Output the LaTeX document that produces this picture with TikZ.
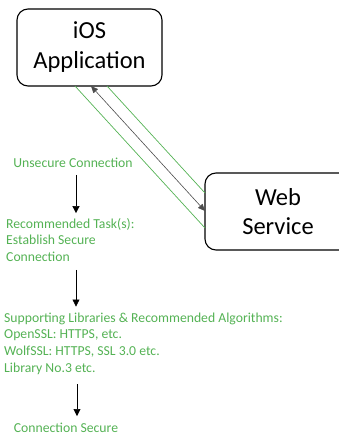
\documentclass[tikz,border=0pt]{standalone}
\usepackage{fontspec}
\setmainfont{Carlito}
\usetikzlibrary{arrows.meta}
\definecolor{note}{RGB}{84,178,84}
\begin{document}
\begin{tikzpicture}[x=1pt,y=-1pt,
  sysbox/.style={draw=black,line width=1.1pt,rounded corners=11pt,align=center,
    font=\fontsize{24.5}{30}\selectfont,inner sep=0pt},
  note/.style={text=note,font=\fontsize{13.7}{16.6}\selectfont,inner sep=0pt,align=left},
  link/.style={draw=note,line width=0.7pt},
  flow/.style={draw=black,line width=0.6pt,-{Triangle[length=7pt,width=7pt]}},
  duplex/.style={draw=black!70,line width=0.6pt,{Triangle[length=7pt,width=6pt]}-{Triangle[length=7pt,width=6pt]}}]
\useasboundingbox (0,0) rectangle (339,436);
\begin{scope}
\clip (0,0) rectangle (339,436);
% the two systems
\node[sysbox,minimum width=145pt,minimum height=77pt] (ios) at (89.5,47.5) {iOS\\Application};
\node[sysbox,minimum width=146pt,minimum height=77pt] (web) at (278,211.5) {};
\end{scope}
\node[align=center,font=\fontsize{24.5}{29}\selectfont,inner sep=0pt] (weblbl) at (web.center) {Web\\Service};
% connection between the systems
\coordinate (g1a) at (75,86);   \coordinate (g1b) at (205,228);
\coordinate (g2a) at (107,86);  \coordinate (g2b) at (205,193);
\coordinate (da) at (91,86);    \coordinate (db) at (205,211);
\draw[link] (g1a) -- (g1b);
\draw[link] (g2a) -- (g2b);
\draw[duplex] (da) -- (db);
% steps towards a secure connection
\node[note,anchor=center] (unsec) at (73,163) {Unsecure Connection};
\node[note,anchor=west] (task) at (6,240) {Recommended Task(s):\\Establish Secure\\Connection};
\node[note,anchor=west] (libs) at (4,343.5) {Supporting Libraries \& Recommended Algorithms:\\OpenSSL: HTTPS, etc.\\WolfSSL: HTTPS, SSL 3.0 etc.\\Library No.3 etc.};
\node[note,anchor=center] (done) at (66,428) {Connection Secure};
\coordinate (c1) at (76,0); \coordinate (c2) at (77,0);
\draw[flow] ([yshift=-7pt]unsec.south -| c1) -- ([yshift=5pt]task.north -| c1);
\draw[flow] ([yshift=-8pt]task.south -| c1) -- ([yshift=6pt]libs.north -| c1);
\draw[flow] ([yshift=-10pt]libs.south -| c2) -- ([yshift=7pt]done.north -| c2);
\end{tikzpicture}
\end{document}
